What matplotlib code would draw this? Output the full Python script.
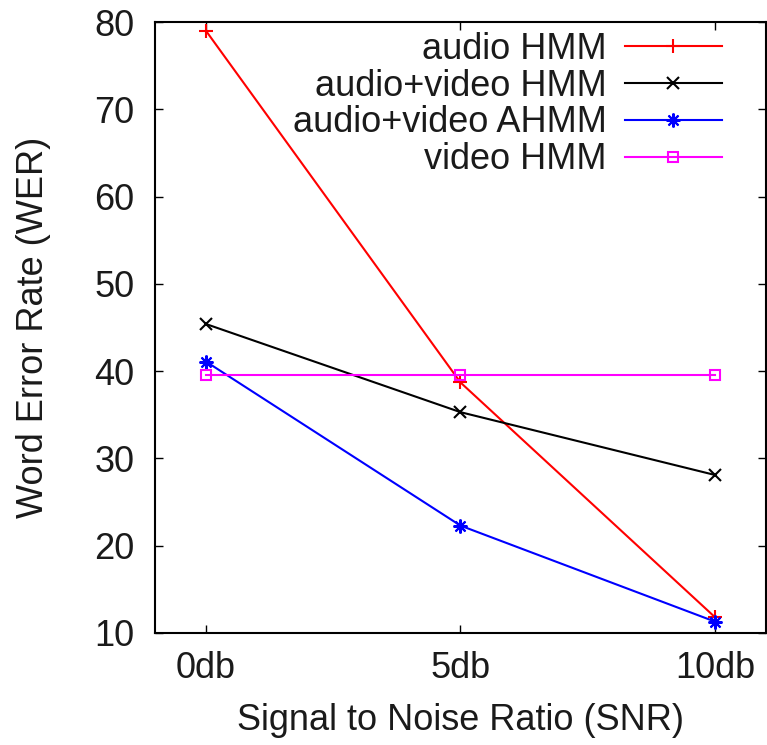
import matplotlib
matplotlib.use("Agg")
import matplotlib.pyplot as plt

snr_labels = ["0db", "5db", "10db"]
audio_hmm = [79.0, 38.7, 11.8]
av_hmm = [45.4, 35.3, 28.1]
av_ahmm = [41.1, 22.3, 11.3]
video_hmm = [39.6, 39.6, 39.6]

plt.rcParams['font.family'] = ['Liberation Sans', 'DejaVu Sans']
txt = '#1a1a1a'
fs = 26

fig = plt.figure(figsize=(7.67, 7.45), dpi=100)
ax = fig.add_axes([155/767, 1 - 633/745, 611/767, 611/745])

x = list(range(len(snr_labels)))
ax.plot(x, audio_hmm, color='#ff0000', lw=1.5, marker='+', ms=10, mew=1.5, label='audio HMM')
ax.plot(x, av_hmm, color='black', lw=1.5, marker='x', ms=8, mew=1.5, label='audio+video HMM')
ax.plot(x, av_ahmm, color='#0000ff', lw=1.5, marker=(8, 2, 0), ms=10, mew=1.5, label='audio+video AHMM')
ax.plot(x, video_hmm, color='#ff00ff', lw=1.5, marker='s', ms=7, mew=1.5, mfc='none', label='video HMM')

ax.set_xlim(-0.2, 2.2)
ax.set_ylim(10, 80)
ax.set_xticks(x)
ax.set_xticklabels(snr_labels)
ax.set_yticks(range(10, 81, 10))

for s in ax.spines.values():
    s.set_linewidth(1.5)
ax.tick_params(direction='in', length=6, width=1, top=True, right=True,
               labelsize=fs, labelcolor=txt)
ax.tick_params(axis='x', pad=13)
ax.tick_params(axis='y', pad=15)

ax.set_xlabel('Signal to Noise Ratio (SNR)', fontsize=fs, color=txt, labelpad=12)
ax.set_ylabel('Word Error Rate (WER)', fontsize=fs, color=txt, labelpad=31)

leg = ax.legend(loc='upper right', bbox_to_anchor=(0.928, 0.984), markerfirst=False,
                frameon=False, fontsize=fs, handlelength=2.7, handletextpad=0.5,
                labelspacing=0.05, borderpad=0, borderaxespad=0)
for t in leg.get_texts():
    t.set_color(txt)

fig.savefig('out.png', dpi=100)
